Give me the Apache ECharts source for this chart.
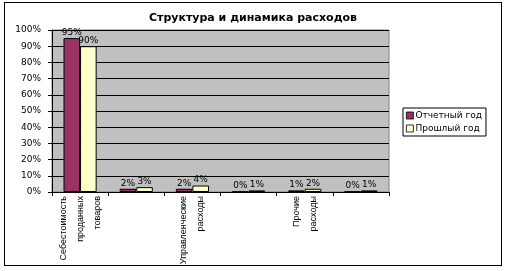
<!DOCTYPE html>
<html>
<head>
<meta charset="utf-8">
<script src="https://cdn.jsdelivr.net/npm/echarts@6/dist/echarts.min.js"></script>
<style>
  html, body { margin: 0; padding: 0; background: #fff; }
  #frame { position: absolute; left: 4px; top: 2px; width: 496px; height: 262px; border: 1px solid #000; }
  #chart { position: absolute; left: 0; top: 0; width: 506px; height: 271px; }
</style>
</head>
<body>
<div id="frame"></div>
<div id="chart"></div>
<script>
// категории (подписи показаны через одну, как в исходнике)
const categories = [
  'Себестоимость\nпроданных\nтоваров',
  'Коммерческие\nрасходы',
  'Управленческие\nрасходы',
  'Проценты к\nуплате',
  'Прочие\nрасходы',
  'Налог на\nприбыль'
];
const currentYear = [95, 2, 2, 0.3, 1, 0.3];
const lastYear = [90, 3, 4, 1, 2, 1];
const yTicks = [0, 10, 20, 30, 40, 50, 60, 70, 80, 90, 100];

const chart = echarts.init(document.getElementById('chart'));
const font = 'DejaVu Sans';

const barLabel = {
  show: true,
  position: 'top',
  distance: 1,
  fontFamily: font,
  fontSize: 9,
  color: '#000',
  formatter: (p) => Math.round(p.value) + '%'
};

chart.setOption({
  animation: false,
  title: {
    text: 'Структура и динамика расходов',
    left: 'center',
    top: 8,
    textStyle: { fontFamily: font, fontSize: 11, fontWeight: 'bold', color: '#000' }
  },
  legend: {
    orient: 'vertical',
    left: 403,
    top: 108,
    itemWidth: 7,
    itemHeight: 7,
    itemGap: 4,
    padding: [3, 4, 3, 3],
    borderColor: '#000',
    borderWidth: 1,
    icon: 'rect',
    itemStyle: { borderWidth: 0.8 },
    textStyle: { fontFamily: font, fontSize: 9, color: '#000', padding: [0, 0, 0, -3] },
    data: ['Отчетный год', 'Прошлый год']
  },
  grid: {
    left: 52, right: 117, top: 30, bottom: 79,
    outerBoundsMode: 'none',
    show: true,
    backgroundColor: '#C0C0C0',
    borderColor: '#808080',
    borderWidth: 1
  },
  xAxis: {
    type: 'category',
    data: categories,
    axisLine: { lineStyle: { color: '#000' } },
    axisTick: { show: true, interval: 0, length: 4, lineStyle: { color: '#000' } },
    axisLabel: {
      interval: 1,
      rotate: 90,
      margin: 4,
      fontFamily: 'Liberation Sans',
      fontSize: 9,
      lineHeight: 17,
      color: '#000'
    }
  },
  yAxis: {
    type: 'value',
    min: yTicks[0],
    max: yTicks[yTicks.length - 1],
    interval: 10,
    axisLine: { show: true, lineStyle: { color: '#000' } },
    axisTick: { show: true, length: 4, lineStyle: { color: '#000' } },
    splitLine: { lineStyle: { color: '#000', width: 1 } },
    axisLabel: { fontFamily: font, fontSize: 9, color: '#000', margin: 11, formatter: '{value}%' }
  },
  series: [
    {
      name: 'Отчетный год',
      type: 'bar',
      data: currentYear,
      barGap: '0%',
      barCategoryGap: '41%',
      itemStyle: { color: '#993366', borderColor: '#000', borderWidth: 1 },
      label: barLabel
    },
    {
      name: 'Прошлый год',
      type: 'bar',
      data: lastYear,
      itemStyle: { color: '#FFFFCC', borderColor: '#000', borderWidth: 1 },
      label: barLabel
    }
  ]
});
</script>
</body>
</html>
